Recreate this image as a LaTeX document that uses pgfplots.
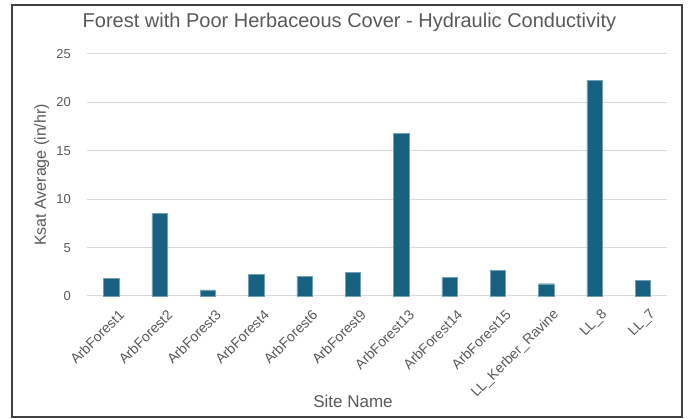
\documentclass[border=0pt]{standalone}
\usepackage{pgfplots}
\pgfplotsset{compat=1.18}
\usepackage{fontspec}
\setmainfont{Liberation Sans}
\definecolor{barc}{RGB}{22,96,128}
\definecolor{txt}{RGB}{89,89,89}
\definecolor{gridc}{RGB}{217,217,217}
\begin{document}
\begin{tikzpicture}[x=1pt,y=1pt]
\path[use as bounding box] (-87pt,-123pt) rectangle (604pt,296pt);
\begin{axis}[
  at={(24.167pt,0pt)}, anchor=origin,
  scale only axis, width=580pt, height=242pt,
  xmin=-0.5, xmax=11.5, ymin=0, ymax=25,
  ytick={0,5,10,15,20,25},
  xtick={0,...,11},
  xticklabels={ArbForest1,ArbForest2,ArbForest3,ArbForest4,ArbForest6,ArbForest9,ArbForest13,ArbForest14,ArbForest15,LL\_Kerber\_Ravine,LL\_8,LL\_7},
  axis line style={draw=none},
  major tick length=0pt,
  ymajorgrids, grid style={gridc, line width=1pt},
  /pgf/number format/assume math mode=true,
  yticklabel style={anchor=east, inner sep=0pt, xshift=-16pt, font=\fontsize{13}{15}\selectfont, text=txt},
  xticklabel style={rotate=45, anchor=east, inner sep=0pt, yshift=-19pt, xshift=-4pt, font=\fontsize{14}{16}\selectfont, text=txt},
  clip=false,
]
\addplot[ybar, bar width=15.3pt, fill=barc, draw=barc!60!white, line width=0.4pt] coordinates {
(0,1.83) (1,8.54) (2,0.62) (3,2.20) (4,2.00) (5,2.41) (6,16.77) (7,1.96) (8,2.65) (9,1.27) (10,22.28) (11,1.65)};
\end{axis}
\draw[black!75, line width=1.2pt] (-75pt,-121pt) rectangle (595pt,291pt);
\node[anchor=base, inner sep=0pt, text=txt, font=\fontsize{20}{24}\selectfont] at (262.5pt,268pt) {Forest with Poor Herbaceous Cover - Hydraulic Conductivity};
\node[anchor=base, inner sep=0pt, text=txt, font=\fontsize{17}{20}\selectfont] at (266pt,-112pt) {Site Name};
\node[anchor=base, rotate=90, inner sep=0pt, text=txt, font=\fontsize{16}{19}\selectfont] at (-41pt,121pt) {Ksat Average (in/hr)};
\end{tikzpicture}
\end{document}
